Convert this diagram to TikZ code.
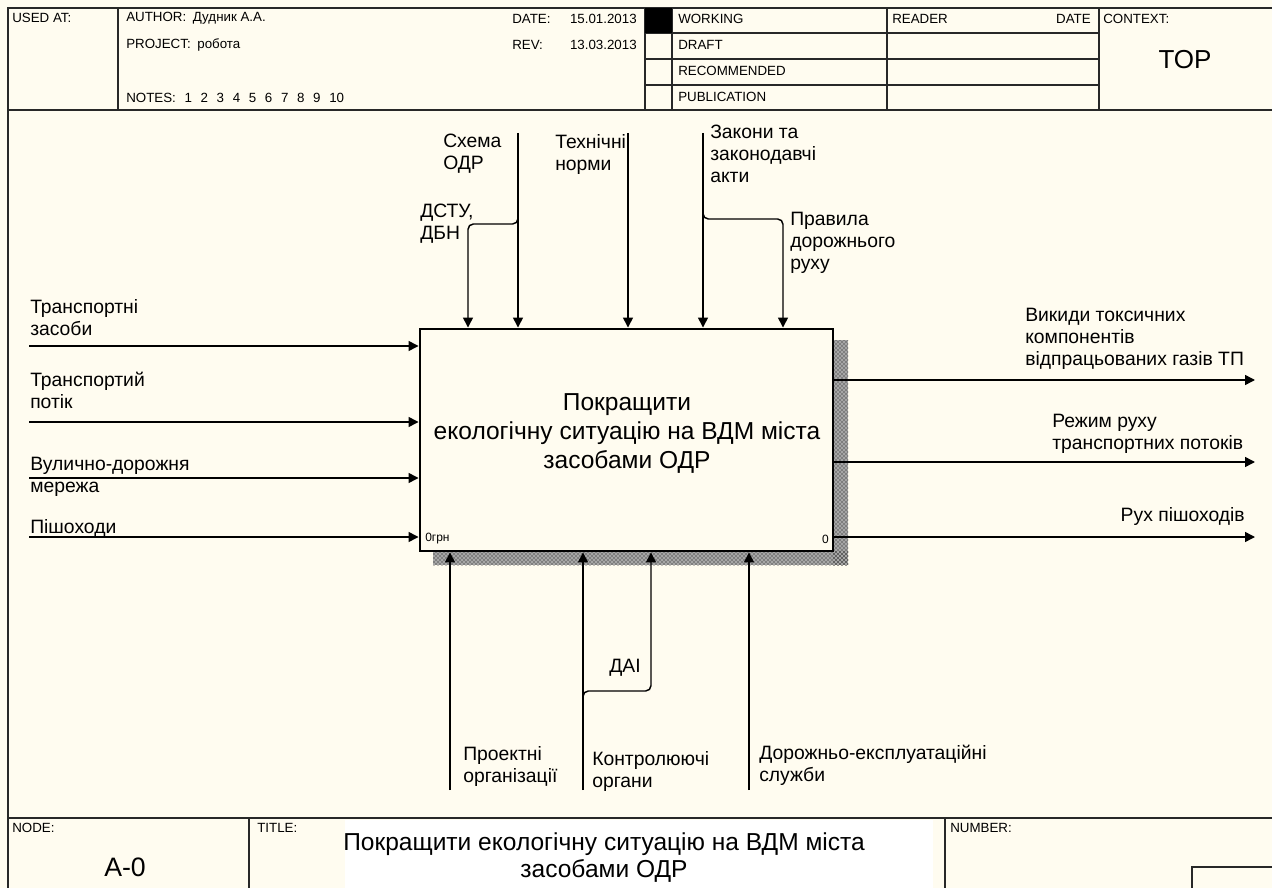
\documentclass[tikz,border=0pt]{standalone}
\usepackage{fontspec}
\setmainfont{Liberation Sans}
\usetikzlibrary{arrows.meta,patterns}
\definecolor{bg}{RGB}{255,252,240}
\definecolor{frm}{RGB}{40,40,40}
\begin{document}
\begin{tikzpicture}[x=0.75pt,y=-0.75pt,
  lbl/.style={font=\fontsize{14.5}{16.5}\selectfont, align=left, anchor=north west, inner sep=0pt},
  hdr/.style={font=\fontsize{10}{11}\selectfont, anchor=west, inner sep=0pt},
  arr/.style={line width=1.1pt, -{Triangle[length=7.5pt,width=7.5pt]}},
  brn/.style={arr, rounded corners=4pt},
  gridline/.style={line width=1.1pt, draw=frm},
  outerline/.style={line width=1.6pt, draw=frm},
  shadowbase/.style={fill=black!35},
  shadow/.style={pattern=crosshatch dots, pattern color=black},
]
\fill[bg] (0,0) rectangle (1272,888);
\useasboundingbox (0,0) rectangle (1272,888);
\clip (0,0) rectangle (1272,888);

% ---------- header ----------
\draw[outerline] (8,900) -- (8,8) -- (1300,8);
\draw[outerline] (8,110) -- (1300,110);
\foreach \x in {118,645,672,887,1099} \draw[gridline] (\x,8) -- (\x,110);
\foreach \y in {33,59,85} \draw[gridline] (645,\y) -- (1099,\y);
\fill[black] (645,8) rectangle (672,33);

\node[hdr] (usedat) at (12,18) {USED AT:};
\node[hdr] (author) at (126,18.5) {AUTHOR:\hspace{5pt}Дудник А.А.};
\node[hdr] (project) at (126,45) {PROJECT:\hspace{5pt}робота};
\node[hdr] (notes) at (126,98) {NOTES:\hspace{6.5pt}1\hspace{6.5pt}2\hspace{6.5pt}3\hspace{6.5pt}4\hspace{6.5pt}5\hspace{6.5pt}6\hspace{6.5pt}7\hspace{6.5pt}8\hspace{6.5pt}9\hspace{6.5pt}10};
\node[hdr] (date) at (512,18.5) {DATE:};
\node[hdr, anchor=east] (dateval) at (637,18.5) {15.01.2013};
\node[hdr] (rev) at (512,45) {REV:};
\node[hdr, anchor=east] (revval) at (637,45) {13.03.2013};
\node[hdr] (working) at (678,19) {WORKING};
\node[hdr] (draft) at (678,45) {DRAFT};
\node[hdr] (recom) at (678,71) {RECOMMENDED};
\node[hdr] (public) at (678,97) {PUBLICATION};
\node[hdr] (reader) at (892,19) {READER};
\node[hdr, anchor=east] (rdate) at (1091,19) {DATE};
\node[hdr] (context) at (1103,18.5) {CONTEXT:};
\node[font=\fontsize{19.5}{22}\selectfont, inner sep=0pt] (top) at (1185,60) {TOP};

% ---------- footer ----------
\draw[outerline] (8,818) -- (1300,818);
\draw[gridline] (249,818) -- (249,900);
\draw[gridline] (945,818) -- (945,900);
\fill[white] (345,820) rectangle (933,890);
\draw[gridline] (1192,900) -- (1192,867) -- (1300,867);
\node[hdr] (nodelbl) at (12,828) {NODE:};
\node[hdr] (titlelbl) at (257,828) {TITLE:};
\node[hdr] (numberlbl) at (950,828) {NUMBER:};
\node[font=\fontsize{20}{22}\selectfont, inner sep=0pt] (nodeid) at (125,867) {A-0};
\node[font=\fontsize{18.4}{20.25}\selectfont, align=center, inner sep=0pt] (title) at (604,858)
  {Покращити екологічну ситуацію на ВДМ міста\\засобами ОДР};

% ---------- main box ----------
\fill[shadowbase] (833,340) rectangle (848,565);
\fill[shadowbase] (433,551) rectangle (848,565);
\fill[shadow] (833,340) rectangle (848,565);
\fill[shadow] (433,551) rectangle (848,565);
\node[draw=black, line width=2.2pt, fill=bg, inner sep=0pt,
      minimum width=309.75pt, minimum height=166.5pt] (A0) at (626.5,440) {};
\node[font=\fontsize{18.4}{21.75}\selectfont, align=center, inner sep=0pt] (A0text) at (627,434)
  {Покращити\\екологічну ситуацію на ВДМ міста\\засобами ОДР};
\node[font=\fontsize{9}{10}\selectfont, anchor=west, inner sep=0pt] (cost) at (425,539) {0грн};
\node[font=\fontsize{9}{10}\selectfont, anchor=east, inner sep=0pt] (num) at (829,539) {0};

% ---------- inputs ----------
\coordinate (i1) at (29,346);
\coordinate (i2) at (29,422);
\coordinate (i3) at (29,478);
\coordinate (i4) at (29,537);
\foreach \c in {i1,i2,i3,i4} \draw[arr] (\c) -- (\c -| A0.west);
\node[lbl] (li1) at (30,299) {Транспортні\\засоби};
\node[lbl] (li2) at (30,372) {Транспортий\\потік};
\node[lbl] (li3) at (30,457) {Вулично-дорожня\\мережа};
\node[lbl] (li4) at (30,519) {Пішоходи};

% ---------- controls ----------
\coordinate (c2) at (518,133);
\coordinate (c3) at (628,133);
\coordinate (c4) at (703,133);
\foreach \c in {c2,c3,c4} \draw[arr] (\c) -- (\c |- A0.north);
\coordinate (b1s) at (518,212);
\coordinate (b1a) at (518,224);
\coordinate (b1b) at (468,224);
\draw[brn] (b1s) -- (b1a) -- (b1b) -- (b1b |- A0.north);
\coordinate (b2s) at (703,208);
\coordinate (b2a) at (703,219);
\coordinate (b2b) at (783,219);
\draw[brn] (b2s) -- (b2a) -- (b2b) -- (b2b |- A0.north);
\node[lbl] (lc1) at (443,134) {Схема\\ОДР};
\node[lbl] (lc2) at (555,134) {Технічні\\норми};
\node[lbl] (lc3) at (710,125) {Закони та\\законодавчі\\акти};
\node[lbl] (lc4) at (420,204) {ДСТУ,\\ДБН};
\node[lbl] (lc5) at (790,212) {Правила\\дорожнього\\руху};

% ---------- outputs ----------
\coordinate (o1) at (1255,380);
\coordinate (o2) at (1255,462);
\coordinate (o3) at (1255,537);
\foreach \c in {o1,o2,o3} \draw[arr] (\c -| A0.east) -- (\c);
\node[lbl] (lo1) at (1025,308) {Викиди токсичних\\компонентів\\відпрацьованих газів ТП};
\node[lbl] (lo2) at (1052,414) {Режим руху\\транспортних потоків};
\node[lbl, anchor=north east] (lo3) at (1245,507) {Рух пішоходів};

% ---------- mechanisms ----------
\coordinate (m1) at (450,790);
\coordinate (m2) at (583,790);
\coordinate (m4) at (749,790);
\foreach \c in {m1,m2,m4} \draw[arr] (\c) -- (\c |- A0.south);
\coordinate (b3s) at (583,699);
\coordinate (b3a) at (583,691);
\coordinate (b3b) at (651,691);
\draw[brn] (b3s) -- (b3a) -- (b3b) -- (b3b |- A0.south);
\node[lbl] (lm1) at (463,746) {Проектні\\організації};
\node[lbl] (lm2) at (592,751) {Контролюючі\\органи};
\node[lbl] (lm4) at (759,745) {Дорожньо-експлуатаційні\\служби};
\node[lbl, anchor=north east] (lm3) at (641,659) {ДАІ};
\end{tikzpicture}
\end{document}
